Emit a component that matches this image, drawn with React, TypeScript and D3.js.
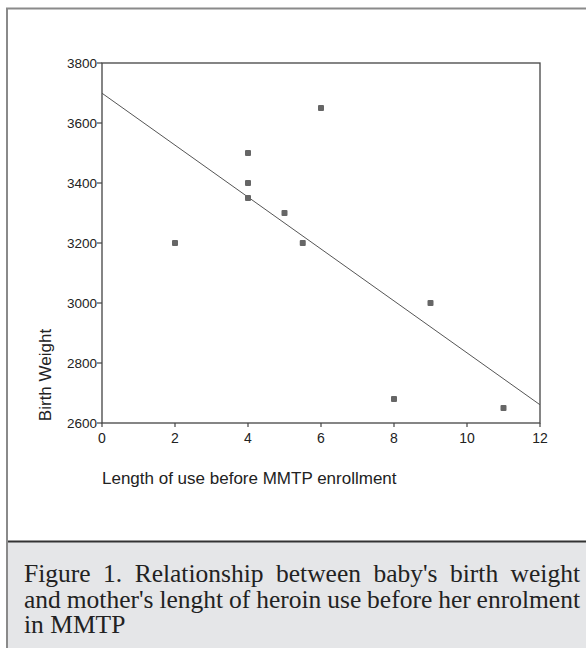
import React from "react";
import * as d3 from "d3";

const lengthOfUse = [2, 4, 4, 4, 5, 5.5, 6, 8, 9, 11];
const birthWeight = [3200, 3500, 3400, 3350, 3300, 3200, 3650, 2680, 3000, 2650];
const xTicks = [0, 2, 4, 6, 8, 10, 12];
const yTicks = [2600, 2800, 3000, 3200, 3400, 3600, 3800];
const xLabel = "Length of use before MMTP enrollment";
const yLabel = "Birth Weight";
const captionLines = [
  "Figure 1. Relationship between baby's birth weight",
  "and mother's lenght of heroin use before her enrolment",
  "in MMTP",
];

const W = 586;
const H = 648;
const serif = "'Liberation Serif', 'Times New Roman', serif";
const sans = "'Liberation Sans', Arial, sans-serif";
const capSize = 25.5;

function measure(word: string, font: string): number {
  if (typeof document === "undefined") return word.length * 10;
  const c = document.createElement("canvas");
  const ctx = c.getContext("2d");
  if (!ctx) return word.length * 10;
  ctx.font = font;
  return ctx.measureText(word).width;
}

function JustifiedLine(props: { text: string; x: number; y: number; width: number; justify: boolean }) {
  const { text, x, y, width, justify } = props;
  const font = `${capSize}px ${serif}`;
  if (!justify) {
    return (
      <text x={x} y={y} fontFamily={serif} fontSize={capSize} fill="#222">
        {text}
      </text>
    );
  }
  const words = text.split(" ");
  const widths = words.map((w) => measure(w, font));
  const total = d3.sum(widths);
  const gap = (width - total) / (words.length - 1);
  let cx = x;
  const pos = widths.map((w) => {
    const p = cx;
    cx += w + gap;
    return p;
  });
  return (
    <g>
      {words.map((w, i) => (
        <text key={i} x={pos[i]} y={y} fontFamily={serif} fontSize={capSize} fill="#222">
          {w}
        </text>
      ))}
    </g>
  );
}

export default function App() {
  const x = d3.scaleLinear().domain([0, 12]).range([102, 540]);
  const y = d3.scaleLinear().domain([2600, 3800]).range([423, 63]);

  // least squares fit
  const mx = d3.mean(lengthOfUse) as number;
  const my = d3.mean(birthWeight) as number;
  let sxy = 0,
    sxx = 0;
  lengthOfUse.forEach((v, i) => {
    sxy += (v - mx) * (birthWeight[i] - my);
    sxx += (v - mx) * (v - mx);
  });
  const slope = sxy / sxx;
  const intercept = my - slope * mx;
  const fit = (v: number) => intercept + slope * v;
  const line = d3.line<number>().x((d) => x(d)).y((d) => y(fit(d)));

  const [x0, x1] = x.range();
  const [y0, y1] = y.range();

  return (
    <svg width={W} height={H} style={{ position: "absolute", left: 0, top: 0, background: "#fff" }}>
      {/* outer frame */}
      <rect x={7} y={8.5} width={W} height={H} fill="#fff" stroke="#8a8a8a" strokeWidth={2} />
      {/* caption box */}
      <rect x={7} y={541.5} width={W} height={H} fill="#e5e6e8" stroke="none" />
      <line x1={7} x2={W} y1={541.5} y2={541.5} stroke="#333" strokeWidth={2} />
      <line x1={7} x2={7} y1={8} y2={H} stroke="#8a8a8a" strokeWidth={2} />

      {/* plot frame */}
      <rect x={x0} y={y1} width={x1 - x0} height={y0 - y1} fill="none" stroke="#444" strokeWidth={1.3} />

      {/* y ticks */}
      {yTicks.map((t) => (
        <g key={"y" + t}>
          <line x1={x0 - 5} x2={x0} y1={y(t)} y2={y(t)} stroke="#444" strokeWidth={1.2} />
          <text x={x0 - 5} y={y(t)} dy="0.36em" textAnchor="end" fontFamily={sans} fontSize={13.5} fill="#222">
            {t}
          </text>
        </g>
      ))}
      {/* x ticks */}
      {xTicks.map((t) => (
        <g key={"x" + t}>
          <line x1={x(t)} x2={x(t)} y1={y0} y2={y0 + 4} stroke="#444" strokeWidth={1.2} />
          <text x={x(t)} y={442.5} textAnchor="middle" fontFamily={sans} fontSize={14} fill="#222">
            {t}
          </text>
        </g>
      ))}

      {/* regression line */}
      <path d={line([0, 12]) || ""} fill="none" stroke="#555" strokeWidth={1} />

      {/* points */}
      {lengthOfUse.map((v, i) => (
        <rect key={"p" + i} x={x(v) - 3} y={y(birthWeight[i]) - 3} width={6} height={6} rx={1} fill="#666" />
      ))}

      {/* axis labels */}
      <text x={102} y={483.5} fontFamily={sans} fontSize={17} fill="#222">
        {xLabel}
      </text>
      <text transform={`translate(50.5,375) rotate(-90)`} textAnchor="middle" fontFamily={sans} fontSize={17} fill="#222">
        {yLabel}
      </text>

      {/* caption */}
      <JustifiedLine text={captionLines[0]} x={24} y={582} width={556} justify={true} />
      <JustifiedLine text={captionLines[1]} x={24} y={607.5} width={556} justify={true} />
      <JustifiedLine text={captionLines[2]} x={24} y={633} width={556} justify={false} />
    </svg>
  );
}
